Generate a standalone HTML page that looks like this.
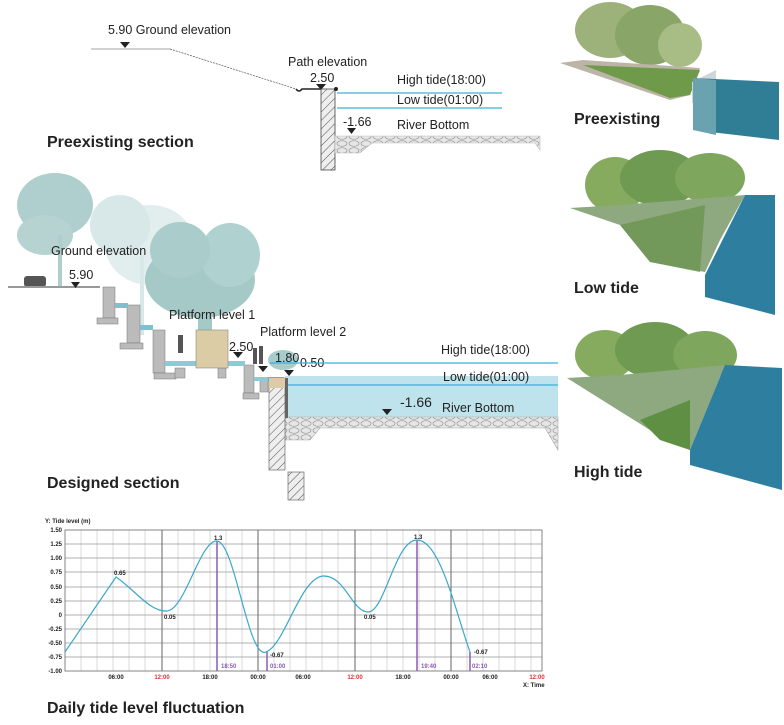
<!DOCTYPE html>
<html><head><meta charset="utf-8"><style>
html,body{margin:0;padding:0;background:#fff;}
svg{display:block;font-family:"Liberation Sans",sans-serif;}
.t{font-size:12.5px;fill:#222;}
.b{font-size:16px;font-weight:bold;fill:#222;}
.s{font-size:6px;fill:#222;font-weight:bold;}
</style></head><body>
<svg width="784" height="725" viewBox="0 0 784 725">
<defs>
<pattern id="hat" width="6" height="6" patternUnits="userSpaceOnUse" patternTransform="rotate(45)"><rect width="6" height="6" fill="#eee"/><line x1="0" y1="0" x2="0" y2="6" stroke="#555" stroke-width="1"/></pattern>
<pattern id="cob" width="12" height="7" patternUnits="userSpaceOnUse"><rect width="12" height="7" fill="#e6e6e6"/><ellipse cx="6" cy="3.5" rx="5" ry="2.8" fill="none" stroke="#999" stroke-width="0.7"/></pattern>
</defs>

<!-- Preexisting section -->
<text x="108" y="34" class="t">5.90  Ground elevation</text>
<polygon points="120,42 130,42 125,48" fill="#222"/>
<line x1="91" y1="49" x2="170" y2="49" stroke="#888" stroke-width="0.8"/>
<line x1="170" y1="49" x2="296" y2="89" stroke="#555" stroke-width="0.7" stroke-dasharray="2,1"/>
<path d="M296,89 q3,4 6,0 L321,89" stroke="#222" stroke-width="1.5" fill="none"/>
<text x="288" y="66" class="t">Path elevation</text>
<text x="310" y="82" class="t">2.50</text>
<polygon points="316,84 326,84 321,90" fill="#222"/>
<rect x="321" y="89" width="14" height="81" fill="url(#hat)" stroke="#444" stroke-width="0.8"/>
<circle cx="336" cy="89" r="2" fill="#222"/>
<line x1="337" y1="93" x2="502" y2="93" stroke="#3ab0d8" stroke-width="1.3"/>
<line x1="337" y1="108" x2="502" y2="108" stroke="#3ab0d8" stroke-width="1.3"/>
<text x="397" y="84" class="t">High tide(18:00)</text>
<text x="397" y="104" class="t">Low tide(01:00)</text>
<text x="343" y="126" class="t">-1.66</text>
<polygon points="347,128 356,128 351.5,134" fill="#222"/>
<text x="397" y="129" class="t">River Bottom</text>
<polygon points="335,136 540,136 540,150 535,143 372,143 360,153 335,153" fill="url(#cob)" stroke="#bbb" stroke-width="0.6"/>
<text x="47" y="147" class="b">Preexisting  section</text>

<!-- Designed section: trees -->
<g opacity="0.8">
<ellipse cx="150" cy="245" rx="45" ry="40" fill="#dbeaea"/>
<ellipse cx="120" cy="225" rx="30" ry="30" fill="#cfe3e3"/>
<rect x="140" y="255" width="4" height="80" fill="#cfe2e2"/>
<ellipse cx="55" cy="205" rx="38" ry="32" fill="#9cc4c2"/>
<ellipse cx="45" cy="235" rx="28" ry="20" fill="#a4c8c6"/>
<rect x="58" y="235" width="4" height="52" fill="#9cc4c2"/>
<ellipse cx="200" cy="280" rx="55" ry="38" fill="#8fbcba"/>
<ellipse cx="230" cy="255" rx="30" ry="32" fill="#9cc6c4"/>
<ellipse cx="180" cy="250" rx="30" ry="28" fill="#95c0be"/>
<rect x="198" y="300" width="14" height="35" fill="#8fbcba"/>
</g>
<ellipse cx="283" cy="360" rx="15" ry="10" fill="#a8cccb"/>
<!-- car -->
<rect x="24" y="276" width="22" height="11" rx="3" fill="#555"/>
<line x1="8" y1="287" x2="100" y2="287" stroke="#999" stroke-width="2"/>
<text x="51" y="255" class="t">Ground elevation</text>
<text x="69" y="279" class="t">5.90</text>
<polygon points="71,282 80,282 75.5,288" fill="#222"/>
<!-- steps -->
<g fill="#bbb" stroke="#777" stroke-width="0.5">
<rect x="103" y="287" width="12" height="31"/><rect x="97" y="318" width="21" height="6"/>
<rect x="127" y="305" width="13" height="38"/><rect x="120" y="343" width="23" height="6"/>
<rect x="153" y="330" width="12" height="43"/><rect x="154" y="373" width="22" height="6"/>
<rect x="175" y="368" width="10" height="10"/>
<rect x="218" y="368" width="8" height="10"/>
<rect x="244" y="365" width="10" height="28"/><rect x="243" y="393" width="16" height="6"/>
<rect x="260" y="380" width="8" height="12"/>
</g>
<rect x="115" y="303" width="13" height="5" fill="#7fc0cf"/>
<rect x="140" y="325" width="13" height="5" fill="#7fc0cf"/>
<rect x="165" y="361" width="80" height="5" fill="#8ccbd6"/>
<rect x="254" y="377" width="30" height="4" fill="#8ccbd6"/>
<rect x="196" y="330" width="32" height="38" fill="#dccca6" stroke="#888" stroke-width="0.6"/>
<rect x="178" y="335" width="5" height="18" fill="#555"/>
<rect x="253" y="348" width="4" height="16" fill="#555"/><rect x="259" y="346" width="4" height="18" fill="#555"/>
<text x="169" y="319" class="t">Platform level 1</text>
<text x="260" y="336" class="t">Platform level 2</text>
<text x="229" y="351" class="t">2.50</text>
<polygon points="233,352 243,352 238,358" fill="#222"/>
<text x="275" y="362" class="t">1.80</text>
<polygon points="258,366 268,366 263,372" fill="#222"/>
<text x="300" y="367" class="t">0.50</text>
<polygon points="284,370 294,370 289,376" fill="#222"/>
<!-- water -->
<rect x="285" y="376" width="273" height="41" fill="#bfe3ec"/>
<line x1="270" y1="363" x2="558" y2="363" stroke="#3ab0d8" stroke-width="1.3"/>
<line x1="285" y1="385" x2="558" y2="385" stroke="#3ab0d8" stroke-width="1.3"/>
<text x="441" y="354" class="t">High tide(18:00)</text>
<text x="443" y="381" class="t">Low tide(01:00)</text>
<text x="400" y="407" class="b" style="font-weight:normal;font-size:14px">-1.66</text>
<polygon points="382,409 392,409 387,415" fill="#222"/>
<text x="442" y="412" class="t">River Bottom</text>
<polygon points="285,417 558,417 558,450 545,428 320,428 310,440 285,440" fill="url(#cob)" stroke="#aaa" stroke-width="0.6"/>
<rect x="269" y="378" width="16" height="92" fill="url(#hat)" stroke="#555" stroke-width="0.6"/>
<rect x="269" y="378" width="16" height="10" fill="#dccca6"/>
<rect x="288" y="472" width="16" height="28" fill="url(#hat)" stroke="#555" stroke-width="0.6"/>
<rect x="285" y="378" width="3" height="40" fill="#666"/>
<text x="47" y="488" class="b">Designed section</text>

<!-- Right images -->
<g>
<ellipse cx="610" cy="30" rx="35" ry="28" fill="#9cb27a"/>
<ellipse cx="650" cy="35" rx="35" ry="30" fill="#8aa568"/>
<ellipse cx="680" cy="45" rx="22" ry="22" fill="#a8bc86"/>
<polygon points="560,63 583,60 700,68 690,95 670,100" fill="#bcb4a6"/>
<polygon points="583,65 700,70 690,95 670,98" fill="#6f9a4a"/>
<polygon points="692,82 716,70 716,103 692,103" fill="#cfd6d8"/>
<polygon points="693,78 779,82 779,140 693,130" fill="#2f7e95"/>
<polygon points="693,78 716,80 716,135 693,130" fill="#6aa2b0"/>
<text x="574" y="124" class="b">Preexisting</text>

<ellipse cx="615" cy="185" rx="30" ry="28" fill="#86ab5e"/>
<ellipse cx="660" cy="178" rx="40" ry="28" fill="#6e9a52"/>
<ellipse cx="710" cy="178" rx="35" ry="25" fill="#7ea65c"/>
<polygon points="570,208 620,205 745,195 720,240 705,272 650,262 620,225" fill="#8ea880"/>
<polygon points="620,225 705,205 700,272 650,262" fill="#6b9450" opacity="0.8"/>
<polygon points="745,195 775,195 775,315 705,297 705,275" fill="#2e7ea0"/>
<text x="574" y="293" class="b">Low tide</text>

<ellipse cx="605" cy="355" rx="30" ry="25" fill="#86ab5e"/>
<ellipse cx="655" cy="350" rx="40" ry="28" fill="#6e9a52"/>
<ellipse cx="705" cy="355" rx="32" ry="24" fill="#7ea65c"/>
<polygon points="567,378 620,375 725,365 690,450 650,430 610,405" fill="#8ea880"/>
<polygon points="725,365 782,368 782,490 690,465 690,450" fill="#2e7ea0"/>
<polygon points="640,420 690,400 690,450 660,440" fill="#5f8f42"/>
<text x="574" y="477" class="b">High tide</text>
</g>

<!-- Chart -->
<text x="45" y="523" class="s">Y: Tide level (m)</text>
<g stroke="#ccc" stroke-width="0.7">
<line x1="81" y1="530" x2="81" y2="671"/><line x1="97" y1="530" x2="97" y2="671"/><line x1="113" y1="530" x2="113" y2="671"/><line x1="129" y1="530" x2="129" y2="671"/><line x1="145" y1="530" x2="145" y2="671"/>
<line x1="178" y1="530" x2="178" y2="671"/><line x1="194" y1="530" x2="194" y2="671"/><line x1="210" y1="530" x2="210" y2="671"/><line x1="226" y1="530" x2="226" y2="671"/><line x1="242" y1="530" x2="242" y2="671"/>
<line x1="274" y1="530" x2="274" y2="671"/><line x1="290" y1="530" x2="290" y2="671"/><line x1="306" y1="530" x2="306" y2="671"/><line x1="322" y1="530" x2="322" y2="671"/><line x1="338" y1="530" x2="338" y2="671"/>
<line x1="371" y1="530" x2="371" y2="671"/><line x1="387" y1="530" x2="387" y2="671"/><line x1="403" y1="530" x2="403" y2="671"/><line x1="419" y1="530" x2="419" y2="671"/><line x1="435" y1="530" x2="435" y2="671"/>
<line x1="467" y1="530" x2="467" y2="671"/><line x1="483" y1="530" x2="483" y2="671"/><line x1="499" y1="530" x2="499" y2="671"/><line x1="515" y1="530" x2="515" y2="671"/><line x1="531" y1="530" x2="531" y2="671"/>
</g>
<g stroke="#999" stroke-width="0.7">
<line x1="65" y1="544" x2="542" y2="544"/><line x1="65" y1="558" x2="542" y2="558"/><line x1="65" y1="572" x2="542" y2="572"/><line x1="65" y1="587" x2="542" y2="587"/><line x1="65" y1="601" x2="542" y2="601"/><line x1="65" y1="615" x2="542" y2="615"/><line x1="65" y1="629" x2="542" y2="629"/><line x1="65" y1="643" x2="542" y2="643"/><line x1="65" y1="657" x2="542" y2="657"/>
</g>
<g stroke="#666" stroke-width="1">
<line x1="162" y1="530" x2="162" y2="671"/><line x1="258" y1="530" x2="258" y2="671"/><line x1="355" y1="530" x2="355" y2="671"/><line x1="451" y1="530" x2="451" y2="671"/>
</g>
<rect x="65" y="530" width="477" height="141" fill="none" stroke="#666" stroke-width="0.8"/>
<g stroke="#8a5cb0" stroke-width="1.5">
<line x1="217" y1="541" x2="217" y2="671"/><line x1="267" y1="652" x2="267" y2="671"/><line x1="417" y1="540" x2="417" y2="671"/><line x1="470" y1="652" x2="470" y2="671"/>
</g>
<path d="M65,652 L116,577 C135,590 150,612 167,611 C185,610 200,540 217,541 C235,542 248,660 266,652 C285,645 300,578 323,576 C345,575 352,612 368,612 C385,612 395,540 417,540 C440,540 455,610 470,652" fill="none" stroke="#3aa8cc" stroke-width="1.2"/>
<g class="s" text-anchor="end">
<text x="62" y="532">1.50</text><text x="62" y="546">1.25</text><text x="62" y="560">1.00</text><text x="62" y="574">0.75</text><text x="62" y="589">0.50</text><text x="62" y="603">0.25</text><text x="62" y="617">0</text><text x="62" y="631">-0.25</text><text x="62" y="645">-0.50</text><text x="62" y="659">-0.75</text><text x="62" y="673">-1.00</text>
</g>
<g class="s">
<text x="114" y="575">0.65</text><text x="164" y="619">0.05</text><text x="214" y="540">1.3</text><text x="270" y="657">-0.67</text>
<text x="364" y="619">0.05</text><text x="414" y="539">1.3</text><text x="474" y="654">-0.67</text>
</g>
<g style="font-size:6px;font-weight:bold" fill="#8a5cb0">
<text x="221" y="668">18:50</text><text x="270" y="668">01:00</text><text x="421" y="668">19:40</text><text x="472" y="668">02:10</text>
</g>
<g class="s" text-anchor="middle">
<text x="116" y="679">06:00</text><text x="162" y="679" fill="#d33">12:00</text><text x="210" y="679">18:00</text><text x="258" y="679">00:00</text><text x="303" y="679">06:00</text><text x="355" y="679" fill="#d33">12:00</text><text x="403" y="679">18:00</text><text x="451" y="679">00:00</text><text x="490" y="679">06:00</text><text x="537" y="679" fill="#d33">12:00</text>
</g>
<text x="523" y="687" class="s">X: Time</text>
<text x="47" y="713" class="b">Daily  tide level fluctuation</text>
</svg>
</body></html>
